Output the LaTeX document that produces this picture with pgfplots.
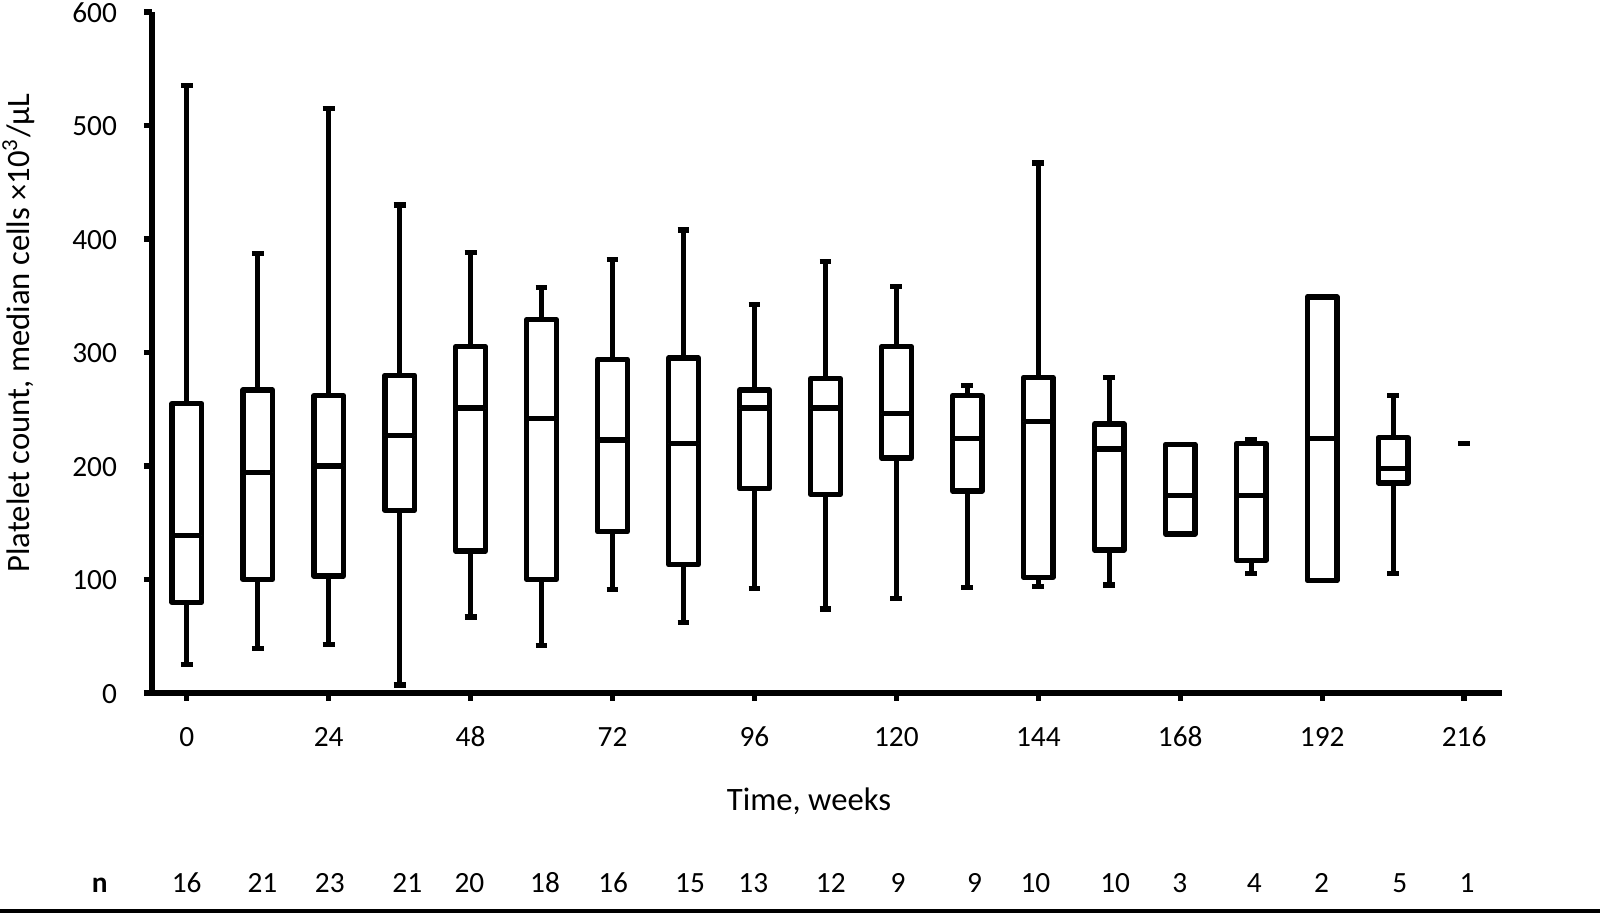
\documentclass[border=0pt]{standalone}
\usepackage{pgfplots}
\pgfplotsset{compat=1.18}
\usepgfplotslibrary{statistics}
\usepackage{fontspec}
\setmainfont{Carlito}
\pgfplotsset{
  bx/.style={draw=black, fill=white, line width=1.6pt, line join=round, solid},
}
\begin{document}
\begin{tikzpicture}
\useasboundingbox (0,0) rectangle (480pt,274.8pt);
\begin{axis}[
  at={(45.6pt,66.9pt)}, anchor=south west,
  width=405pt, height=204.3pt, scale only axis,
  xmin=-5.87, xmax=222.4, ymin=0, ymax=600,
  axis x line*=bottom, axis y line*=left,
  axis line style={-, line width=1.6pt, black},
  xtick={0,24,...,216}, ytick={0,100,...,600},
  tick align=outside, major tick length=2.4pt,
  tick style={line width=1.6pt, black},
  /pgf/number format/assume math mode=true,
  ticklabel style={font=\fontsize{8.8}{10}\selectfont, text=black, text height=6.2pt, text depth=0pt},
  yticklabel style={xshift=-4.6pt},
  xticklabel style={yshift=-4pt},
  xlabel={Time, weeks},
  ylabel={Platelet count, median cells ×10\textsuperscript{3}/µL},
  label style={font=\fontsize{9.8}{11}\selectfont},
  xlabel style={at={(axis description cs:0.4867,-0.1586)}, anchor=center},
  ylabel style={at={(axis description cs:-0.099,0.5286)}, anchor=center},
  clip=false,
  boxplot/draw direction=y,
  boxplot/box extend=5,
  boxplot/whisker extend=2,
]
\addplot[bx, boxplot prepared={draw position=0,   lower whisker=25,  lower quartile=80,  median=139, upper quartile=255, upper whisker=535}] coordinates {};
\addplot[bx, boxplot prepared={draw position=12,  lower whisker=39,  lower quartile=100, median=194, upper quartile=267, upper whisker=387}] coordinates {};
\addplot[bx, boxplot prepared={draw position=24,  lower whisker=43,  lower quartile=103, median=200, upper quartile=262, upper whisker=515}] coordinates {};
\addplot[bx, boxplot prepared={draw position=36,  lower whisker=7,   lower quartile=161, median=227, upper quartile=280, upper whisker=430}] coordinates {};
\addplot[bx, boxplot prepared={draw position=48,  lower whisker=67,  lower quartile=125, median=251, upper quartile=305, upper whisker=388}] coordinates {};
\addplot[bx, boxplot prepared={draw position=60,  lower whisker=42,  lower quartile=100, median=242, upper quartile=329, upper whisker=357}] coordinates {};
\addplot[bx, boxplot prepared={draw position=72,  lower whisker=91,  lower quartile=142, median=223, upper quartile=294, upper whisker=382}] coordinates {};
\addplot[bx, boxplot prepared={draw position=84,  lower whisker=62,  lower quartile=113, median=220, upper quartile=295, upper whisker=408}] coordinates {};
\addplot[bx, boxplot prepared={draw position=96,  lower whisker=92,  lower quartile=180, median=251, upper quartile=267, upper whisker=342}] coordinates {};
\addplot[bx, boxplot prepared={draw position=108, lower whisker=74,  lower quartile=175, median=251, upper quartile=277, upper whisker=380}] coordinates {};
\addplot[bx, boxplot prepared={draw position=120, lower whisker=83,  lower quartile=207, median=246, upper quartile=305, upper whisker=358}] coordinates {};
\addplot[bx, boxplot prepared={draw position=132, lower whisker=93,  lower quartile=178, median=224, upper quartile=262, upper whisker=271}] coordinates {};
\addplot[bx, boxplot prepared={draw position=144, lower whisker=94,  lower quartile=102, median=239, upper quartile=278, upper whisker=467}] coordinates {};
\addplot[bx, boxplot prepared={draw position=156, lower whisker=95,  lower quartile=126, median=215, upper quartile=237, upper whisker=278}] coordinates {};
\addplot[bx, boxplot prepared={draw position=168, lower whisker=140, lower quartile=140, median=174, upper quartile=219, upper whisker=219}] coordinates {};
\addplot[bx, boxplot prepared={draw position=180, lower whisker=105, lower quartile=117, median=174, upper quartile=220, upper whisker=223}] coordinates {};
\addplot[bx, boxplot prepared={draw position=192, lower whisker=99,  lower quartile=99,  median=224, upper quartile=349, upper whisker=349}] coordinates {};
\addplot[bx, boxplot prepared={draw position=204, lower whisker=105, lower quartile=185, median=198, upper quartile=225, upper whisker=262}] coordinates {};
\addplot[only marks, mark=-, mark size=1.7pt, mark options={line width=1.6pt, black}] coordinates {(216,220)};
% n row
\begin{scope}[every node/.style={font=\fontsize{8.8}{10}\selectfont, text height=6.2pt, text depth=0pt}]
\node at (axis cs:-14.7,-167) {\textbf{n}};
\node at (axis cs:0,-167) {16};
\node at (axis cs:12.8,-167) {21};
\node at (axis cs:24.2,-167) {23};
\node at (axis cs:37.3,-167) {21};
\node at (axis cs:47.8,-167) {20};
\node at (axis cs:60.6,-167) {18};
\node at (axis cs:72.1,-167) {16};
\node at (axis cs:85.1,-167) {15};
\node at (axis cs:95.8,-167) {13};
\node at (axis cs:108.9,-167) {12};
\node at (axis cs:120.3,-167) {9};
\node at (axis cs:133.2,-167) {9};
\node at (axis cs:143.5,-167) {10};
\node at (axis cs:157,-167) {10};
\node at (axis cs:167.9,-167) {3};
\node at (axis cs:180.5,-167) {4};
\node at (axis cs:191.9,-167) {2};
\node at (axis cs:205.1,-167) {5};
\node at (axis cs:216.5,-167) {1};
\end{scope}
\draw[line width=1.3pt] (axis cs:-35,-192) -- (axis cs:242,-192);
\end{axis}
\end{tikzpicture}
\end{document}
